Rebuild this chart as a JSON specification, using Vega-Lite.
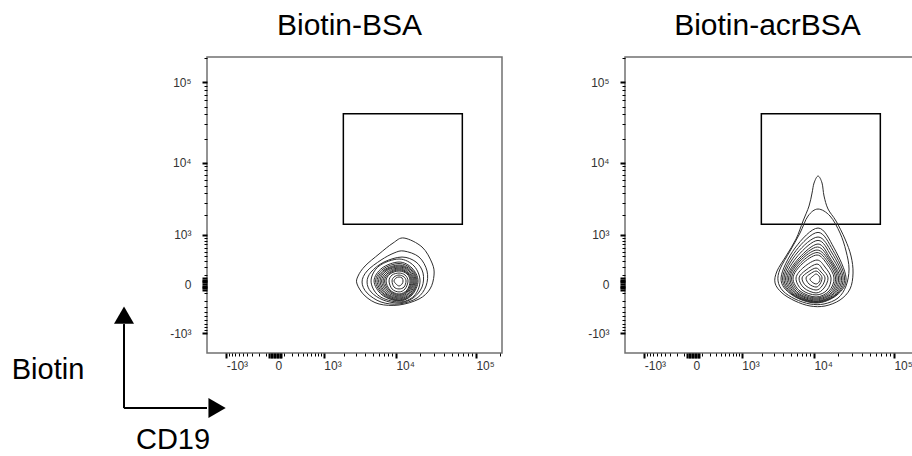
{
  "$schema": "https://vega.github.io/schema/vega-lite/v6.json",
  "padding": {"left": 11, "top": 10, "right": 0, "bottom": 0},
  "config": {
    "view": {"stroke": "#707070", "strokeWidth": 1.5},
    "font": "Liberation Sans",
    "title": {"font": "Liberation Sans", "fontSize": 30, "fontWeight": "normal", "color": "#000000", "anchor": "middle", "frame": "group", "baseline": "alphabetic", "offset": 16, "dx": -5},
    "axis": {"grid": false, "domain": false, "title": null, "labelFont": "Liberation Sans", "labelFontSize": 12, "labelColor": "#333333", "tickColor": "#000000", "labelOverlap": false, "labelFlush": false, "labelBound": false}
  },
  "datasets": {
    "gates": [
      {"sample": "BSA", "CD19_low": 1985, "CD19_high": 67800, "Biotin_low": 1468, "Biotin_high": 40800},
      {"sample": "acrBSA", "CD19_low": 1985, "CD19_high": 67800, "Biotin_low": 1468, "Biotin_high": 40800}
    ],
    "arrows": [
      {"from_x": -24000, "from_y": -10800, "to_x": -24000, "to_y": -700},
      {"from_x": -24000, "from_y": -10800, "to_x": -1970, "to_y": -10800}
    ],
    "head_up": [{"CD19": -24000, "Biotin": -468}],
    "head_right": [{"CD19": -1397, "Biotin": -10800}],
    "axis_names": [
      {"name": "Biotin", "CD19": -210500, "Biotin": -4559},
      {"name": "CD19", "CD19": -5711, "Biotin": -35065}
    ],
    "contours": [
      {"sample":"BSA","lvl":1,"k":1,"CD19":12672,"Biotin":889},
      {"sample":"BSA","lvl":1,"k":2,"CD19":21352,"Biotin":615},
      {"sample":"BSA","lvl":1,"k":3,"CD19":28480,"Biotin":270},
      {"sample":"BSA","lvl":1,"k":4,"CD19":30164,"Biotin":96},
      {"sample":"BSA","lvl":1,"k":5,"CD19":26887,"Biotin":-50},
      {"sample":"BSA","lvl":1,"k":6,"CD19":19581,"Biotin":-176},
      {"sample":"BSA","lvl":1,"k":7,"CD19":10949,"Biotin":-270},
      {"sample":"BSA","lvl":1,"k":8,"CD19":6059,"Biotin":-253},
      {"sample":"BSA","lvl":1,"k":9,"CD19":3962,"Biotin":-134},
      {"sample":"BSA","lvl":1,"k":10,"CD19":3088,"Biotin":0},
      {"sample":"BSA","lvl":1,"k":11,"CD19":3187,"Biotin":84},
      {"sample":"BSA","lvl":1,"k":12,"CD19":3962,"Biotin":221},
      {"sample":"BSA","lvl":1,"k":13,"CD19":6059,"Biotin":445},
      {"sample":"BSA","lvl":1,"k":14,"CD19":9181,"Biotin":728},
      {"sample":"BSA","lvl":2,"k":1,"CD19":12672,"Biotin":513},
      {"sample":"BSA","lvl":2,"k":2,"CD19":19581,"Biotin":381},
      {"sample":"BSA","lvl":2,"k":3,"CD19":24662,"Biotin":148},
      {"sample":"BSA","lvl":2,"k":4,"CD19":23962,"Biotin":-19},
      {"sample":"BSA","lvl":2,"k":5,"CD19":18481,"Biotin":-162},
      {"sample":"BSA","lvl":2,"k":6,"CD19":10949,"Biotin":-253},
      {"sample":"BSA","lvl":2,"k":7,"CD19":6433,"Biotin":-221},
      {"sample":"BSA","lvl":2,"k":8,"CD19":4213,"Biotin":-96},
      {"sample":"BSA","lvl":2,"k":9,"CD19":3611,"Biotin":19},
      {"sample":"BSA","lvl":2,"k":10,"CD19":4213,"Biotin":148},
      {"sample":"BSA","lvl":2,"k":11,"CD19":6433,"Biotin":323},
      {"sample":"BSA","lvl":2,"k":12,"CD19":9455,"Biotin":467},
      {"sample":"BSA","lvl":3,"k":1,"CD19":11953,"Biotin":381},
      {"sample":"BSA","lvl":3,"k":2,"CD19":17954,"Biotin":287},
      {"sample":"BSA","lvl":3,"k":3,"CD19":21977,"Biotin":121},
      {"sample":"BSA","lvl":3,"k":4,"CD19":21352,"Biotin":-29},
      {"sample":"BSA","lvl":3,"k":5,"CD19":16460,"Biotin":-162},
      {"sample":"BSA","lvl":3,"k":6,"CD19":10949,"Biotin":-237},
      {"sample":"BSA","lvl":3,"k":7,"CD19":6828,"Biotin":-190},
      {"sample":"BSA","lvl":3,"k":8,"CD19":4760,"Biotin":-84},
      {"sample":"BSA","lvl":3,"k":9,"CD19":4213,"Biotin":19},
      {"sample":"BSA","lvl":3,"k":10,"CD19":4760,"Biotin":134},
      {"sample":"BSA","lvl":3,"k":11,"CD19":7034,"Biotin":287},
      {"sample":"BSA","lvl":4,"k":1,"CD19":10949,"Biotin":342},
      {"sample":"BSA","lvl":4,"k":2,"CD19":16944,"Biotin":221},
      {"sample":"BSA","lvl":4,"k":3,"CD19":20155,"Biotin":30},
      {"sample":"BSA","lvl":4,"k":4,"CD19":16944,"Biotin":-134},
      {"sample":"BSA","lvl":4,"k":5,"CD19":10949,"Biotin":-221},
      {"sample":"BSA","lvl":4,"k":6,"CD19":6059,"Biotin":-134},
      {"sample":"BSA","lvl":4,"k":7,"CD19":4760,"Biotin":30},
      {"sample":"BSA","lvl":4,"k":8,"CD19":6059,"Biotin":221},
      {"sample":"BSA","lvl":5,"k":1,"CD19":10949,"Biotin":287},
      {"sample":"BSA","lvl":5,"k":2,"CD19":15989,"Biotin":190},
      {"sample":"BSA","lvl":5,"k":3,"CD19":19023,"Biotin":30},
      {"sample":"BSA","lvl":5,"k":4,"CD19":15989,"Biotin":-121},
      {"sample":"BSA","lvl":5,"k":5,"CD19":10949,"Biotin":-205},
      {"sample":"BSA","lvl":5,"k":6,"CD19":6628,"Biotin":-121},
      {"sample":"BSA","lvl":5,"k":7,"CD19":5213,"Biotin":30},
      {"sample":"BSA","lvl":5,"k":8,"CD19":6628,"Biotin":190},
      {"sample":"BSA","lvl":13,"k":1,"CD19":10949,"Biotin":262},
      {"sample":"BSA","lvl":13,"k":2,"CD19":15760,"Biotin":176},
      {"sample":"BSA","lvl":13,"k":3,"CD19":18488,"Biotin":30},
      {"sample":"BSA","lvl":13,"k":4,"CD19":15760,"Biotin":-115},
      {"sample":"BSA","lvl":13,"k":5,"CD19":10949,"Biotin":-198},
      {"sample":"BSA","lvl":13,"k":6,"CD19":6831,"Biotin":-115},
      {"sample":"BSA","lvl":13,"k":7,"CD19":5460,"Biotin":30},
      {"sample":"BSA","lvl":13,"k":8,"CD19":6831,"Biotin":176},
      {"sample":"BSA","lvl":6,"k":1,"CD19":10949,"Biotin":237},
      {"sample":"BSA","lvl":6,"k":2,"CD19":15532,"Biotin":162},
      {"sample":"BSA","lvl":6,"k":3,"CD19":17954,"Biotin":30},
      {"sample":"BSA","lvl":6,"k":4,"CD19":15532,"Biotin":-109},
      {"sample":"BSA","lvl":6,"k":5,"CD19":10949,"Biotin":-190},
      {"sample":"BSA","lvl":6,"k":6,"CD19":7034,"Biotin":-109},
      {"sample":"BSA","lvl":6,"k":7,"CD19":5706,"Biotin":30},
      {"sample":"BSA","lvl":6,"k":8,"CD19":7034,"Biotin":162},
      {"sample":"BSA","lvl":14,"k":1,"CD19":10949,"Biotin":221},
      {"sample":"BSA","lvl":14,"k":2,"CD19":15094,"Biotin":155},
      {"sample":"BSA","lvl":14,"k":3,"CD19":17449,"Biotin":30},
      {"sample":"BSA","lvl":14,"k":4,"CD19":15094,"Biotin":-102},
      {"sample":"BSA","lvl":14,"k":5,"CD19":10949,"Biotin":-176},
      {"sample":"BSA","lvl":14,"k":6,"CD19":7250,"Biotin":-102},
      {"sample":"BSA","lvl":14,"k":7,"CD19":5975,"Biotin":30},
      {"sample":"BSA","lvl":14,"k":8,"CD19":7250,"Biotin":155},
      {"sample":"BSA","lvl":7,"k":1,"CD19":10949,"Biotin":205},
      {"sample":"BSA","lvl":7,"k":2,"CD19":14656,"Biotin":148},
      {"sample":"BSA","lvl":7,"k":3,"CD19":16944,"Biotin":30},
      {"sample":"BSA","lvl":7,"k":4,"CD19":14656,"Biotin":-96},
      {"sample":"BSA","lvl":7,"k":5,"CD19":10949,"Biotin":-162},
      {"sample":"BSA","lvl":7,"k":6,"CD19":7465,"Biotin":-96},
      {"sample":"BSA","lvl":7,"k":7,"CD19":6243,"Biotin":30},
      {"sample":"BSA","lvl":7,"k":8,"CD19":7465,"Biotin":148},
      {"sample":"BSA","lvl":15,"k":1,"CD19":10949,"Biotin":190},
      {"sample":"BSA","lvl":15,"k":2,"CD19":14446,"Biotin":134},
      {"sample":"BSA","lvl":15,"k":3,"CD19":16466,"Biotin":30},
      {"sample":"BSA","lvl":15,"k":4,"CD19":14446,"Biotin":-84},
      {"sample":"BSA","lvl":15,"k":5,"CD19":10949,"Biotin":-148},
      {"sample":"BSA","lvl":15,"k":6,"CD19":7693,"Biotin":-84},
      {"sample":"BSA","lvl":15,"k":7,"CD19":6536,"Biotin":30},
      {"sample":"BSA","lvl":15,"k":8,"CD19":7693,"Biotin":134},
      {"sample":"BSA","lvl":8,"k":1,"CD19":10949,"Biotin":176},
      {"sample":"BSA","lvl":8,"k":2,"CD19":14236,"Biotin":121},
      {"sample":"BSA","lvl":8,"k":3,"CD19":15989,"Biotin":30},
      {"sample":"BSA","lvl":8,"k":4,"CD19":14236,"Biotin":-73},
      {"sample":"BSA","lvl":8,"k":5,"CD19":10949,"Biotin":-134},
      {"sample":"BSA","lvl":8,"k":6,"CD19":7921,"Biotin":-73},
      {"sample":"BSA","lvl":8,"k":7,"CD19":6828,"Biotin":30},
      {"sample":"BSA","lvl":8,"k":8,"CD19":7921,"Biotin":121},
      {"sample":"BSA","lvl":16,"k":1,"CD19":10949,"Biotin":162},
      {"sample":"BSA","lvl":16,"k":2,"CD19":14032,"Biotin":115},
      {"sample":"BSA","lvl":16,"k":3,"CD19":15538,"Biotin":30},
      {"sample":"BSA","lvl":16,"k":4,"CD19":14032,"Biotin":-67},
      {"sample":"BSA","lvl":16,"k":5,"CD19":10949,"Biotin":-121},
      {"sample":"BSA","lvl":16,"k":6,"CD19":8162,"Biotin":-67},
      {"sample":"BSA","lvl":16,"k":7,"CD19":7146,"Biotin":30},
      {"sample":"BSA","lvl":16,"k":8,"CD19":8162,"Biotin":115},
      {"sample":"BSA","lvl":9,"k":1,"CD19":10949,"Biotin":148},
      {"sample":"BSA","lvl":9,"k":2,"CD19":13828,"Biotin":109},
      {"sample":"BSA","lvl":9,"k":3,"CD19":15088,"Biotin":30},
      {"sample":"BSA","lvl":9,"k":4,"CD19":13828,"Biotin":-62},
      {"sample":"BSA","lvl":9,"k":5,"CD19":10949,"Biotin":-109},
      {"sample":"BSA","lvl":9,"k":6,"CD19":8404,"Biotin":-62},
      {"sample":"BSA","lvl":9,"k":7,"CD19":7465,"Biotin":30},
      {"sample":"BSA","lvl":9,"k":8,"CD19":8404,"Biotin":109},
      {"sample":"BSA","lvl":10,"k":1,"CD19":10949,"Biotin":121},
      {"sample":"BSA","lvl":10,"k":2,"CD19":13047,"Biotin":96},
      {"sample":"BSA","lvl":10,"k":3,"CD19":14236,"Biotin":30},
      {"sample":"BSA","lvl":10,"k":4,"CD19":13047,"Biotin":-50},
      {"sample":"BSA","lvl":10,"k":5,"CD19":10949,"Biotin":-84},
      {"sample":"BSA","lvl":10,"k":6,"CD19":8914,"Biotin":-50},
      {"sample":"BSA","lvl":10,"k":7,"CD19":8159,"Biotin":30},
      {"sample":"BSA","lvl":10,"k":8,"CD19":8914,"Biotin":96},
      {"sample":"BSA","lvl":11,"k":1,"CD19":10949,"Biotin":96},
      {"sample":"BSA","lvl":11,"k":2,"CD19":12672,"Biotin":73},
      {"sample":"BSA","lvl":11,"k":3,"CD19":13432,"Biotin":30},
      {"sample":"BSA","lvl":11,"k":4,"CD19":12672,"Biotin":-30},
      {"sample":"BSA","lvl":11,"k":5,"CD19":10949,"Biotin":-50},
      {"sample":"BSA","lvl":11,"k":6,"CD19":9455,"Biotin":-30},
      {"sample":"BSA","lvl":11,"k":7,"CD19":8914,"Biotin":30},
      {"sample":"BSA","lvl":11,"k":8,"CD19":9455,"Biotin":73},
      {"sample":"BSA","lvl":12,"k":1,"CD19":10949,"Biotin":73},
      {"sample":"BSA","lvl":12,"k":2,"CD19":11953,"Biotin":62},
      {"sample":"BSA","lvl":12,"k":3,"CD19":12307,"Biotin":30},
      {"sample":"BSA","lvl":12,"k":4,"CD19":11953,"Biotin":0},
      {"sample":"BSA","lvl":12,"k":5,"CD19":10949,"Biotin":-19},
      {"sample":"BSA","lvl":12,"k":6,"CD19":10027,"Biotin":0},
      {"sample":"BSA","lvl":12,"k":7,"CD19":9455,"Biotin":30},
      {"sample":"BSA","lvl":12,"k":8,"CD19":10027,"Biotin":62},
      {"sample":"acrBSA","lvl":1,"k":1,"CD19":11274,"Biotin":6723},
      {"sample":"acrBSA","lvl":1,"k":2,"CD19":12672,"Biotin":5456},
      {"sample":"acrBSA","lvl":1,"k":3,"CD19":13432,"Biotin":3675},
      {"sample":"acrBSA","lvl":1,"k":4,"CD19":15088,"Biotin":2442},
      {"sample":"acrBSA","lvl":1,"k":5,"CD19":19023,"Biotin":1644},
      {"sample":"acrBSA","lvl":1,"k":6,"CD19":24662,"Biotin":855},
      {"sample":"acrBSA","lvl":1,"k":7,"CD19":29310,"Biotin":402},
      {"sample":"acrBSA","lvl":1,"k":8,"CD19":31043,"Biotin":121},
      {"sample":"acrBSA","lvl":1,"k":9,"CD19":28480,"Biotin":-50},
      {"sample":"acrBSA","lvl":1,"k":10,"CD19":21352,"Biotin":-190},
      {"sample":"acrBSA","lvl":1,"k":11,"CD19":13828,"Biotin":-287},
      {"sample":"acrBSA","lvl":1,"k":12,"CD19":8914,"Biotin":-287},
      {"sample":"acrBSA","lvl":1,"k":13,"CD19":5706,"Biotin":-205},
      {"sample":"acrBSA","lvl":1,"k":14,"CD19":3841,"Biotin":-96},
      {"sample":"acrBSA","lvl":1,"k":15,"CD19":3088,"Biotin":10},
      {"sample":"acrBSA","lvl":1,"k":16,"CD19":3288,"Biotin":148},
      {"sample":"acrBSA","lvl":1,"k":17,"CD19":4344,"Biotin":402},
      {"sample":"acrBSA","lvl":1,"k":18,"CD19":5880,"Biotin":855},
      {"sample":"acrBSA","lvl":1,"k":19,"CD19":7247,"Biotin":1644},
      {"sample":"acrBSA","lvl":1,"k":20,"CD19":8655,"Biotin":2688},
      {"sample":"acrBSA","lvl":1,"k":21,"CD19":9455,"Biotin":4030},
      {"sample":"acrBSA","lvl":1,"k":22,"CD19":10027,"Biotin":5456},
      {"sample":"acrBSA","lvl":2,"k":1,"CD19":11274,"Biotin":2442},
      {"sample":"acrBSA","lvl":2,"k":2,"CD19":15989,"Biotin":1944},
      {"sample":"acrBSA","lvl":2,"k":3,"CD19":21352,"Biotin":1075},
      {"sample":"acrBSA","lvl":2,"k":4,"CD19":25382,"Biotin":513},
      {"sample":"acrBSA","lvl":2,"k":5,"CD19":27671,"Biotin":176},
      {"sample":"acrBSA","lvl":2,"k":6,"CD19":25382,"Biotin":-19},
      {"sample":"acrBSA","lvl":2,"k":7,"CD19":20155,"Biotin":-162},
      {"sample":"acrBSA","lvl":2,"k":8,"CD19":13432,"Biotin":-253},
      {"sample":"acrBSA","lvl":2,"k":9,"CD19":8914,"Biotin":-253},
      {"sample":"acrBSA","lvl":2,"k":10,"CD19":5706,"Biotin":-176},
      {"sample":"acrBSA","lvl":2,"k":11,"CD19":3962,"Biotin":-73},
      {"sample":"acrBSA","lvl":2,"k":12,"CD19":3393,"Biotin":30},
      {"sample":"acrBSA","lvl":2,"k":13,"CD19":3611,"Biotin":176},
      {"sample":"acrBSA","lvl":2,"k":14,"CD19":4906,"Biotin":513},
      {"sample":"acrBSA","lvl":2,"k":15,"CD19":6628,"Biotin":1075},
      {"sample":"acrBSA","lvl":2,"k":16,"CD19":8404,"Biotin":1944},
      {"sample":"acrBSA","lvl":3,"k":1,"CD19":11274,"Biotin":1289},
      {"sample":"acrBSA","lvl":3,"k":2,"CD19":17954,"Biotin":588},
      {"sample":"acrBSA","lvl":3,"k":3,"CD19":25382,"Biotin":62},
      {"sample":"acrBSA","lvl":3,"k":4,"CD19":19581,"Biotin":-121},
      {"sample":"acrBSA","lvl":3,"k":5,"CD19":10633,"Biotin":-237},
      {"sample":"acrBSA","lvl":3,"k":6,"CD19":5213,"Biotin":-121},
      {"sample":"acrBSA","lvl":3,"k":7,"CD19":3724,"Biotin":62},
      {"sample":"acrBSA","lvl":3,"k":8,"CD19":5706,"Biotin":588},
      {"sample":"acrBSA","lvl":13,"k":1,"CD19":11274,"Biotin":1100},
      {"sample":"acrBSA","lvl":13,"k":2,"CD19":17449,"Biotin":525},
      {"sample":"acrBSA","lvl":13,"k":3,"CD19":24330,"Biotin":62},
      {"sample":"acrBSA","lvl":13,"k":4,"CD19":19031,"Biotin":-121},
      {"sample":"acrBSA","lvl":13,"k":5,"CD19":10633,"Biotin":-229},
      {"sample":"acrBSA","lvl":13,"k":6,"CD19":5375,"Biotin":-121},
      {"sample":"acrBSA","lvl":13,"k":7,"CD19":3905,"Biotin":62},
      {"sample":"acrBSA","lvl":13,"k":8,"CD19":5882,"Biotin":525},
      {"sample":"acrBSA","lvl":4,"k":1,"CD19":11274,"Biotin":925},
      {"sample":"acrBSA","lvl":4,"k":2,"CD19":16944,"Biotin":467},
      {"sample":"acrBSA","lvl":4,"k":3,"CD19":23281,"Biotin":62},
      {"sample":"acrBSA","lvl":4,"k":4,"CD19":18481,"Biotin":-121},
      {"sample":"acrBSA","lvl":4,"k":5,"CD19":10633,"Biotin":-221},
      {"sample":"acrBSA","lvl":4,"k":6,"CD19":5537,"Biotin":-121},
      {"sample":"acrBSA","lvl":4,"k":7,"CD19":4085,"Biotin":62},
      {"sample":"acrBSA","lvl":4,"k":8,"CD19":6059,"Biotin":467},
      {"sample":"acrBSA","lvl":14,"k":1,"CD19":11274,"Biotin":810},
      {"sample":"acrBSA","lvl":14,"k":2,"CD19":16466,"Biotin":412},
      {"sample":"acrBSA","lvl":14,"k":3,"CD19":22316,"Biotin":62},
      {"sample":"acrBSA","lvl":14,"k":4,"CD19":17961,"Biotin":-115},
      {"sample":"acrBSA","lvl":14,"k":5,"CD19":10633,"Biotin":-213},
      {"sample":"acrBSA","lvl":14,"k":6,"CD19":5708,"Biotin":-115},
      {"sample":"acrBSA","lvl":14,"k":7,"CD19":4281,"Biotin":62},
      {"sample":"acrBSA","lvl":14,"k":8,"CD19":6246,"Biotin":412},
      {"sample":"acrBSA","lvl":5,"k":1,"CD19":11274,"Biotin":699},
      {"sample":"acrBSA","lvl":5,"k":2,"CD19":15989,"Biotin":362},
      {"sample":"acrBSA","lvl":5,"k":3,"CD19":21352,"Biotin":62},
      {"sample":"acrBSA","lvl":5,"k":4,"CD19":17442,"Biotin":-109},
      {"sample":"acrBSA","lvl":5,"k":5,"CD19":10633,"Biotin":-205},
      {"sample":"acrBSA","lvl":5,"k":6,"CD19":5880,"Biotin":-109},
      {"sample":"acrBSA","lvl":5,"k":7,"CD19":4478,"Biotin":62},
      {"sample":"acrBSA","lvl":5,"k":8,"CD19":6433,"Biotin":362},
      {"sample":"acrBSA","lvl":15,"k":1,"CD19":11110,"Biotin":615},
      {"sample":"acrBSA","lvl":15,"k":2,"CD19":15760,"Biotin":333},
      {"sample":"acrBSA","lvl":15,"k":3,"CD19":20466,"Biotin":62},
      {"sample":"acrBSA","lvl":15,"k":4,"CD19":16951,"Biotin":-102},
      {"sample":"acrBSA","lvl":15,"k":5,"CD19":10633,"Biotin":-190},
      {"sample":"acrBSA","lvl":15,"k":6,"CD19":6061,"Biotin":-102},
      {"sample":"acrBSA","lvl":15,"k":7,"CD19":4692,"Biotin":62},
      {"sample":"acrBSA","lvl":15,"k":8,"CD19":6530,"Biotin":333},
      {"sample":"acrBSA","lvl":6,"k":1,"CD19":10949,"Biotin":538},
      {"sample":"acrBSA","lvl":6,"k":2,"CD19":15532,"Biotin":305},
      {"sample":"acrBSA","lvl":6,"k":3,"CD19":19581,"Biotin":62},
      {"sample":"acrBSA","lvl":6,"k":4,"CD19":16460,"Biotin":-96},
      {"sample":"acrBSA","lvl":6,"k":5,"CD19":10633,"Biotin":-176},
      {"sample":"acrBSA","lvl":6,"k":6,"CD19":6243,"Biotin":-96},
      {"sample":"acrBSA","lvl":6,"k":7,"CD19":4906,"Biotin":62},
      {"sample":"acrBSA","lvl":6,"k":8,"CD19":6628,"Biotin":305},
      {"sample":"acrBSA","lvl":16,"k":1,"CD19":10949,"Biotin":478},
      {"sample":"acrBSA","lvl":16,"k":2,"CD19":15094,"Biotin":279},
      {"sample":"acrBSA","lvl":16,"k":3,"CD19":18767,"Biotin":62},
      {"sample":"acrBSA","lvl":16,"k":4,"CD19":15996,"Biotin":-84},
      {"sample":"acrBSA","lvl":16,"k":5,"CD19":10633,"Biotin":-162},
      {"sample":"acrBSA","lvl":16,"k":6,"CD19":6435,"Biotin":-84},
      {"sample":"acrBSA","lvl":16,"k":7,"CD19":5139,"Biotin":62},
      {"sample":"acrBSA","lvl":16,"k":8,"CD19":6831,"Biotin":279},
      {"sample":"acrBSA","lvl":7,"k":1,"CD19":10949,"Biotin":423},
      {"sample":"acrBSA","lvl":7,"k":2,"CD19":14656,"Biotin":253},
      {"sample":"acrBSA","lvl":7,"k":3,"CD19":17954,"Biotin":62},
      {"sample":"acrBSA","lvl":7,"k":4,"CD19":15532,"Biotin":-73},
      {"sample":"acrBSA","lvl":7,"k":5,"CD19":10633,"Biotin":-148},
      {"sample":"acrBSA","lvl":7,"k":6,"CD19":6628,"Biotin":-73},
      {"sample":"acrBSA","lvl":7,"k":7,"CD19":5372,"Biotin":62},
      {"sample":"acrBSA","lvl":7,"k":8,"CD19":7034,"Biotin":253},
      {"sample":"acrBSA","lvl":8,"k":1,"CD19":10949,"Biotin":323},
      {"sample":"acrBSA","lvl":8,"k":2,"CD19":13828,"Biotin":205},
      {"sample":"acrBSA","lvl":8,"k":3,"CD19":16460,"Biotin":62},
      {"sample":"acrBSA","lvl":8,"k":4,"CD19":14656,"Biotin":-62},
      {"sample":"acrBSA","lvl":8,"k":5,"CD19":10633,"Biotin":-121},
      {"sample":"acrBSA","lvl":8,"k":6,"CD19":7034,"Biotin":-62},
      {"sample":"acrBSA","lvl":8,"k":7,"CD19":5880,"Biotin":62},
      {"sample":"acrBSA","lvl":8,"k":8,"CD19":7465,"Biotin":205},
      {"sample":"acrBSA","lvl":9,"k":1,"CD19":10949,"Biotin":253},
      {"sample":"acrBSA","lvl":9,"k":2,"CD19":13047,"Biotin":162},
      {"sample":"acrBSA","lvl":9,"k":3,"CD19":15088,"Biotin":62},
      {"sample":"acrBSA","lvl":9,"k":4,"CD19":13432,"Biotin":-40},
      {"sample":"acrBSA","lvl":9,"k":5,"CD19":10633,"Biotin":-96},
      {"sample":"acrBSA","lvl":9,"k":6,"CD19":7465,"Biotin":-40},
      {"sample":"acrBSA","lvl":9,"k":7,"CD19":6433,"Biotin":62},
      {"sample":"acrBSA","lvl":9,"k":8,"CD19":7921,"Biotin":162},
      {"sample":"acrBSA","lvl":10,"k":1,"CD19":10633,"Biotin":190},
      {"sample":"acrBSA","lvl":10,"k":2,"CD19":12307,"Biotin":134},
      {"sample":"acrBSA","lvl":10,"k":3,"CD19":13828,"Biotin":62},
      {"sample":"acrBSA","lvl":10,"k":4,"CD19":12672,"Biotin":-19},
      {"sample":"acrBSA","lvl":10,"k":5,"CD19":10633,"Biotin":-62},
      {"sample":"acrBSA","lvl":10,"k":6,"CD19":7921,"Biotin":-19},
      {"sample":"acrBSA","lvl":10,"k":7,"CD19":7034,"Biotin":62},
      {"sample":"acrBSA","lvl":10,"k":8,"CD19":8404,"Biotin":134},
      {"sample":"acrBSA","lvl":11,"k":1,"CD19":10633,"Biotin":148},
      {"sample":"acrBSA","lvl":11,"k":2,"CD19":11953,"Biotin":109},
      {"sample":"acrBSA","lvl":11,"k":3,"CD19":12672,"Biotin":62},
      {"sample":"acrBSA","lvl":11,"k":4,"CD19":11953,"Biotin":0},
      {"sample":"acrBSA","lvl":11,"k":5,"CD19":10633,"Biotin":-30},
      {"sample":"acrBSA","lvl":11,"k":6,"CD19":8655,"Biotin":0},
      {"sample":"acrBSA","lvl":11,"k":7,"CD19":7921,"Biotin":62},
      {"sample":"acrBSA","lvl":11,"k":8,"CD19":8914,"Biotin":109},
      {"sample":"acrBSA","lvl":12,"k":1,"CD19":10633,"Biotin":109},
      {"sample":"acrBSA","lvl":12,"k":2,"CD19":11609,"Biotin":84},
      {"sample":"acrBSA","lvl":12,"k":3,"CD19":11953,"Biotin":50},
      {"sample":"acrBSA","lvl":12,"k":4,"CD19":11609,"Biotin":19},
      {"sample":"acrBSA","lvl":12,"k":5,"CD19":10633,"Biotin":0},
      {"sample":"acrBSA","lvl":12,"k":6,"CD19":9455,"Biotin":19},
      {"sample":"acrBSA","lvl":12,"k":7,"CD19":8914,"Biotin":50},
      {"sample":"acrBSA","lvl":12,"k":8,"CD19":9737,"Biotin":84}
    ]
  },
  "spacing": 83,
  "hconcat": [
    {
      "title": "Biotin-BSA",
      "width": 295,
      "height": 296,
      "resolve": {"axis": {"x": "independent", "y": "independent"}},
      "layer": [
        {
          "data": {"name": "gates"},
          "transform": [{"filter": "datum.sample == 'BSA'"}],
          "mark": {"type": "rect", "fillOpacity": 0, "stroke": "#000000", "strokeWidth": 1.5},
          "encoding": {
            "x": {"field": "CD19_low", "type": "quantitative", "scale": {"type": "symlog", "constant": 333, "domain": [-1970, 210000], "nice": false, "zero": false}, "axis": {"orient": "bottom", "values": [-900,-800,-700,-600,-500,-400,-300,-200,-100,100,200,300,400,500,600,700,800,900,2000,3000,4000,5000,6000,7000,8000,9000,20000,30000,40000,50000,60000,70000,80000,90000,200000], "labels": false, "tickSize": 3, "tickWidth": 1}},
            "x2": {"field": "CD19_high"},
            "y": {"field": "Biotin_low", "type": "quantitative", "scale": {"type": "symlog", "constant": 333, "domain": [-2010, 204000], "nice": false, "zero": false}, "axis": {"orient": "left", "values": [-900,-800,-700,-600,-500,-400,-300,-200,-100,100,200,300,400,500,600,700,800,900,2000,3000,4000,5000,6000,7000,8000,9000,20000,30000,40000,50000,60000,70000,80000,90000,200000], "labels": false, "tickSize": 3, "tickWidth": 1}},
            "y2": {"field": "Biotin_high"}
          }
        },
        {
          "data": {"name": "contours"},
          "transform": [{"filter": "datum.sample == 'BSA'"}],
          "mark": {"type": "line", "interpolate": "cardinal-closed", "stroke": "#2e2e2e", "strokeWidth": 1},
          "encoding": {
            "x": {"field": "CD19", "type": "quantitative", "scale": {"type": "symlog", "constant": 333, "domain": [-1970, 210000], "nice": false, "zero": false}, "axis": {"orient": "bottom", "values": [-1000,-60,-45,-30,-15,0,15,30,45,60,1000,10000,100000], "tickSize": 5, "tickWidth": 2, "labelAlign": "left", "labelBaseline": "top", "labelPadding": 2, "labelExpr": "datum.value === 100000 ? '10⁵' : datum.value === 10000 ? '10⁴' : datum.value === 1000 ? '10³' : datum.value === 0 ? '0' : datum.value === -1000 ? '-10³' : ''"}},
            "y": {"field": "Biotin", "type": "quantitative", "scale": {"type": "symlog", "constant": 333, "domain": [-2010, 204000], "nice": false, "zero": false}, "axis": {"orient": "left", "values": [-1000,-60,-45,-30,-15,0,15,30,45,60,1000,10000,100000], "tickSize": 5, "tickWidth": 2, "labelAlign": "right", "labelBaseline": "middle", "labelPadding": 11, "labelExpr": "datum.value === 100000 ? '10⁵' : datum.value === 10000 ? '10⁴' : datum.value === 1000 ? '10³' : datum.value === 0 ? '0' : datum.value === -1000 ? '-10³' : ''"}},
            "detail": {"field": "lvl", "type": "nominal"},
            "order": {"field": "k", "type": "quantitative"}
          }
        },
        {
          "data": {"name": "arrows"},
          "mark": {"type": "rule", "color": "#000000", "strokeWidth": 2},
          "encoding": {
            "x": {"field": "from_x", "type": "quantitative", "scale": {"type": "symlog", "constant": 333, "domain": [-1970, 210000], "nice": false, "zero": false}, "axis": null},
            "y": {"field": "from_y", "type": "quantitative", "scale": {"type": "symlog", "constant": 333, "domain": [-2010, 204000], "nice": false, "zero": false}, "axis": null},
            "x2": {"field": "to_x"},
            "y2": {"field": "to_y"}
          }
        },
        {
          "data": {"name": "head_up"},
          "mark": {"type": "point", "shape": "triangle-up", "filled": true, "size": 400, "color": "#000000", "opacity": 1, "strokeWidth": 0},
          "encoding": {
            "x": {"field": "CD19", "type": "quantitative", "scale": {"type": "symlog", "constant": 333, "domain": [-1970, 210000], "nice": false, "zero": false}, "axis": null},
            "y": {"field": "Biotin", "type": "quantitative", "scale": {"type": "symlog", "constant": 333, "domain": [-2010, 204000], "nice": false, "zero": false}, "axis": null}
          }
        },
        {
          "data": {"name": "head_right"},
          "mark": {"type": "point", "shape": "triangle-right", "filled": true, "size": 400, "color": "#000000", "opacity": 1, "strokeWidth": 0},
          "encoding": {
            "x": {"field": "CD19", "type": "quantitative", "scale": {"type": "symlog", "constant": 333, "domain": [-1970, 210000], "nice": false, "zero": false}, "axis": null},
            "y": {"field": "Biotin", "type": "quantitative", "scale": {"type": "symlog", "constant": 333, "domain": [-2010, 204000], "nice": false, "zero": false}, "axis": null}
          }
        },
        {
          "data": {"name": "axis_names"},
          "mark": {"type": "text", "font": "Liberation Sans", "fontSize": 29, "align": "center", "baseline": "alphabetic", "color": "#000000"},
          "encoding": {
            "x": {"field": "CD19", "type": "quantitative", "scale": {"type": "symlog", "constant": 333, "domain": [-1970, 210000], "nice": false, "zero": false}, "axis": null},
            "y": {"field": "Biotin", "type": "quantitative", "scale": {"type": "symlog", "constant": 333, "domain": [-2010, 204000], "nice": false, "zero": false}, "axis": null},
            "text": {"field": "name", "type": "nominal"}
          }
        }
      ]
    },
    {
      "title": "Biotin-acrBSA",
      "width": 295,
      "height": 296,
      "resolve": {"axis": {"x": "independent", "y": "independent"}},
      "layer": [
        {
          "data": {"name": "gates"},
          "transform": [{"filter": "datum.sample == 'acrBSA'"}],
          "mark": {"type": "rect", "fillOpacity": 0, "stroke": "#000000", "strokeWidth": 1.5},
          "encoding": {
            "x": {"field": "CD19_low", "type": "quantitative", "scale": {"type": "symlog", "constant": 333, "domain": [-1970, 210000], "nice": false, "zero": false}, "axis": {"orient": "bottom", "values": [-900,-800,-700,-600,-500,-400,-300,-200,-100,100,200,300,400,500,600,700,800,900,2000,3000,4000,5000,6000,7000,8000,9000,20000,30000,40000,50000,60000,70000,80000,90000,200000], "labels": false, "tickSize": 3, "tickWidth": 1}},
            "x2": {"field": "CD19_high"},
            "y": {"field": "Biotin_low", "type": "quantitative", "scale": {"type": "symlog", "constant": 333, "domain": [-2010, 204000], "nice": false, "zero": false}, "axis": {"orient": "left", "values": [-900,-800,-700,-600,-500,-400,-300,-200,-100,100,200,300,400,500,600,700,800,900,2000,3000,4000,5000,6000,7000,8000,9000,20000,30000,40000,50000,60000,70000,80000,90000,200000], "labels": false, "tickSize": 3, "tickWidth": 1}},
            "y2": {"field": "Biotin_high"}
          }
        },
        {
          "data": {"name": "contours"},
          "transform": [{"filter": "datum.sample == 'acrBSA'"}],
          "mark": {"type": "line", "interpolate": "cardinal-closed", "stroke": "#2e2e2e", "strokeWidth": 1},
          "encoding": {
            "x": {"field": "CD19", "type": "quantitative", "scale": {"type": "symlog", "constant": 333, "domain": [-1970, 210000], "nice": false, "zero": false}, "axis": {"orient": "bottom", "values": [-1000,-60,-45,-30,-15,0,15,30,45,60,1000,10000,100000], "tickSize": 5, "tickWidth": 2, "labelAlign": "left", "labelBaseline": "top", "labelPadding": 2, "labelExpr": "datum.value === 100000 ? '10⁵' : datum.value === 10000 ? '10⁴' : datum.value === 1000 ? '10³' : datum.value === 0 ? '0' : datum.value === -1000 ? '-10³' : ''"}},
            "y": {"field": "Biotin", "type": "quantitative", "scale": {"type": "symlog", "constant": 333, "domain": [-2010, 204000], "nice": false, "zero": false}, "axis": {"orient": "left", "values": [-1000,-60,-45,-30,-15,0,15,30,45,60,1000,10000,100000], "tickSize": 5, "tickWidth": 2, "labelAlign": "right", "labelBaseline": "middle", "labelPadding": 11, "labelExpr": "datum.value === 100000 ? '10⁵' : datum.value === 10000 ? '10⁴' : datum.value === 1000 ? '10³' : datum.value === 0 ? '0' : datum.value === -1000 ? '-10³' : ''"}},
            "detail": {"field": "lvl", "type": "nominal"},
            "order": {"field": "k", "type": "quantitative"}
          }
        }
      ]
    }
  ]
}
